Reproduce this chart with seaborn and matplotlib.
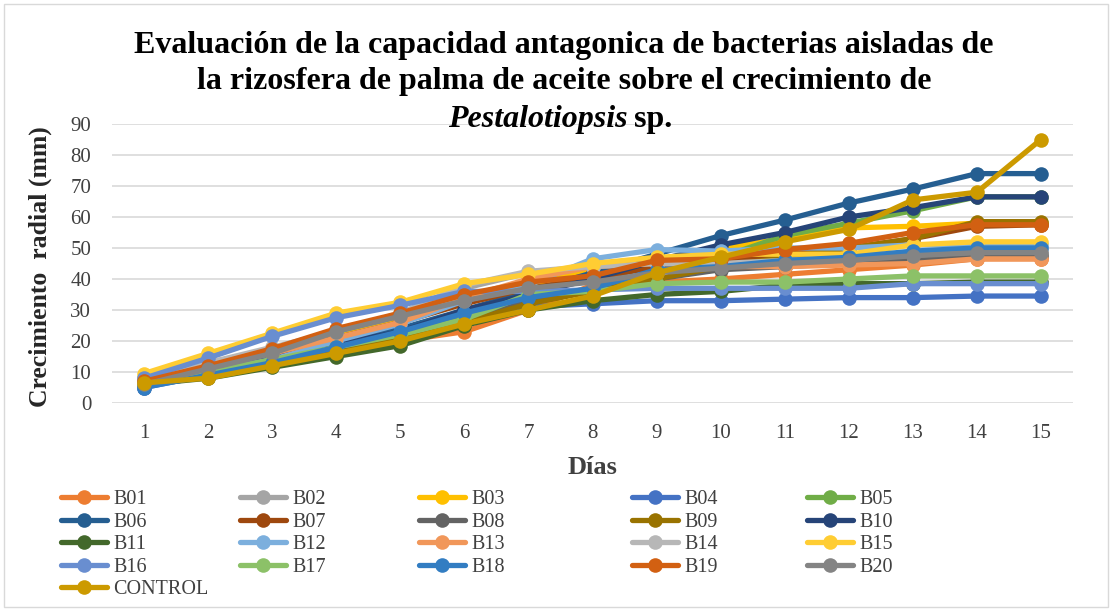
import pandas as pd
import matplotlib.pyplot as plt
import seaborn as sns
from matplotlib.patches import Rectangle

# Datos
dias = list(range(1, 16))
series = ["B01", "B02", "B03", "B04", "B05", "B06", "B07", "B08", "B09", "B10",
          "B11", "B12", "B13", "B14", "B15", "B16", "B17", "B18", "B19", "B20", "CONTROL"]

B01 = [6, 9, 13, 17, 20, 23, 30, 38, 39, 40, 41.5, 43, 44.5, 46.5, 46.5]
B02 = [5, 10, 14, 20, 26, 37, 42, 43, 44, 44, 45, 46, 47, 48, 48]
B03 = [8, 13, 17, 22, 27, 33, 38, 43, 46, 50, 53, 56.5, 57, 58, 58]
B04 = [5, 9, 12, 16, 21, 29, 31, 32, 33, 33, 33.5, 34, 34, 34.5, 34.5]
B05 = [6, 9, 13, 17, 22, 27, 33, 36, 42, 47, 54, 58, 62, 66.5, 66.5]
B06 = [7, 10, 14, 19, 24, 30, 36, 42, 48, 54, 59, 64.5, 69, 74, 74]
B07 = [7, 11, 16, 21, 26, 32, 37, 40, 44, 46, 48, 50, 53, 57, 57.5]
B08 = [6, 9, 13, 17, 21, 27, 33, 36, 40, 43, 44, 45, 46, 47, 47.5]
B09 = [6, 9, 12, 16, 21, 26, 32, 36, 40, 44, 47, 50, 53, 58.5, 58.5]
B10 = [7, 10, 15, 19, 23, 30, 35, 40, 46, 51, 55, 60, 63, 66.5, 66.5]
B11 = [6, 8, 11.5, 15, 18.5, 25, 30, 33, 35, 36, 38, 38.5, 38.5, 39, 39]
B12 = [7, 10, 14, 20, 25.5, 33, 38, 46.5, 49.5, 49, 50, 50, 51, 51, 51]
B13 = [7, 12, 16, 21, 26, 34, 40, 44, 45, 44, 44, 44.5, 45, 46.5, 46.5]
B14 = [8, 13, 18, 23, 29, 38, 42.5, 44, 45, 45, 46, 47, 48, 49, 49]
B15 = [9.5, 16, 22.5, 29, 32.5, 38.5, 41.5, 45, 47, 48, 48, 48, 51, 52, 52]
B16 = [8, 14.5, 21.5, 27.5, 31.5, 36, 36, 36.5, 37, 37, 37, 37, 38.5, 38.5, 38.5]
B17 = [6, 10, 14, 18, 22, 27, 35, 36, 38.5, 39, 39, 40, 41, 41, 41]
B18 = [5, 9, 13, 18, 23, 29, 34, 37, 43, 44, 46, 47, 49, 50, 50]
B19 = [7, 12, 17.5, 24, 29, 35, 39, 41, 46, 46.5, 49.5, 51.5, 55, 57.5, 57.5]
B20 = [6, 11, 16, 23, 28, 33, 37, 39, 42, 43.5, 45, 46, 47.5, 48.5, 48.5]
CONTROL = [6.5, 8, 12, 16, 20, 25.5, 30, 34.5, 42, 47, 52, 56, 65.5, 68, 85]

valores = [B01, B02, B03, B04, B05, B06, B07, B08, B09, B10,
           B11, B12, B13, B14, B15, B16, B17, B18, B19, B20, CONTROL]

colores = ["#ED7D31", "#A5A5A5", "#FFC000", "#4472C4", "#70AD47", "#255E91", "#9E480E",
           "#636363", "#997300", "#264478", "#43682B", "#7CAFDD", "#F1975A", "#B7B7B7",
           "#FFCD33", "#698ED0", "#8CC168", "#327DC2", "#D26012", "#848484", "#CC9A00"]

df = pd.DataFrame([(s, d, v) for s, vals in zip(series, valores) for d, v in zip(dias, vals)],
                  columns=["serie", "dia", "valor"])

sns.set_style("white")
plt.rcParams['font.family'] = ['Liberation Serif', 'DejaVu Serif']

W, H = 1114, 611
fig = plt.figure(figsize=(11.14, 6.11), dpi=100)
ax = fig.add_axes([112 / W, 1 - 403 / H, 961 / W, 279 / H])

sns.lineplot(data=df, x="dia", y="valor", hue="serie", hue_order=series,
             palette=dict(zip(series, colores)), marker="o", markersize=10.5,
             markeredgewidth=0, linewidth=3.8, legend=False, ax=ax)

ax.set_xlim(0.5, 15.5)
ax.set_ylim(0, 90)
ax.set_yticks(range(0, 91, 10))
ax.set_xticks(dias)
ax.grid(axis="y", color="#D9D9D9", linewidth=1.2)
ax.set_axisbelow(True)
for sp in ax.spines.values():
    sp.set_visible(False)
ax.tick_params(axis="both", length=0, labelsize=15, colors="#404040")
ax.tick_params(axis="x", pad=15)
ax.tick_params(axis="y", pad=15)
ax.set_xlabel("Días", fontsize=19, fontweight="bold", color="#404040", va="center")
ax.set_ylabel("Crecimiento  radial (mm)", fontsize=18.5, fontweight="bold", color="#262626", va="center")
ax.xaxis.set_label_coords((593 - 112) / 961, (403 - 467) / 279)
ax.yaxis.set_label_coords((40 - 112) / 961, 0.49)

# Titulo
kw = dict(fontsize=23, fontweight="bold", color="black", va="center")
fig.text(564 / W, 1 - 45 / H, "Evaluación de la capacidad antagonica de bacterias aisladas de", ha="center", **kw)
fig.text(564 / W, 1 - 82 / H, "la rizosfera de palma de aceite sobre el crecimiento de", ha="center", **kw)
fig.text(628 / W, 1 - 120 / H, "Pestalotiopsis", ha="right", style="italic", **kw)
fig.text(634 / W, 1 - 120 / H, "sp.", ha="left", **kw)

# Leyenda en 5 columnas
lineas = ax.get_lines()
handles = {s: l for s, l in zip(series, lineas)}
col_x = [61, 240, 419, 632, 807]
for c in range(5):
    nombres = series[c::5]
    leg = fig.legend([handles[n] for n in nombres], nombres, loc="upper left",
                     bbox_to_anchor=(col_x[c] / W, 1 - 490 / H), frameon=False,
                     fontsize=14.5, handlelength=2.3, handletextpad=0.3,
                     labelspacing=0.17, borderpad=0, borderaxespad=0)
    for t in leg.get_texts():
        t.set_color("#404040")

fig.patches.append(Rectangle((4 / W, 4 / H), 1104 / W, 603 / H, transform=fig.transFigure,
                             fill=False, edgecolor="#D9D9D9", linewidth=1))

fig.savefig("out.png", dpi=100)
